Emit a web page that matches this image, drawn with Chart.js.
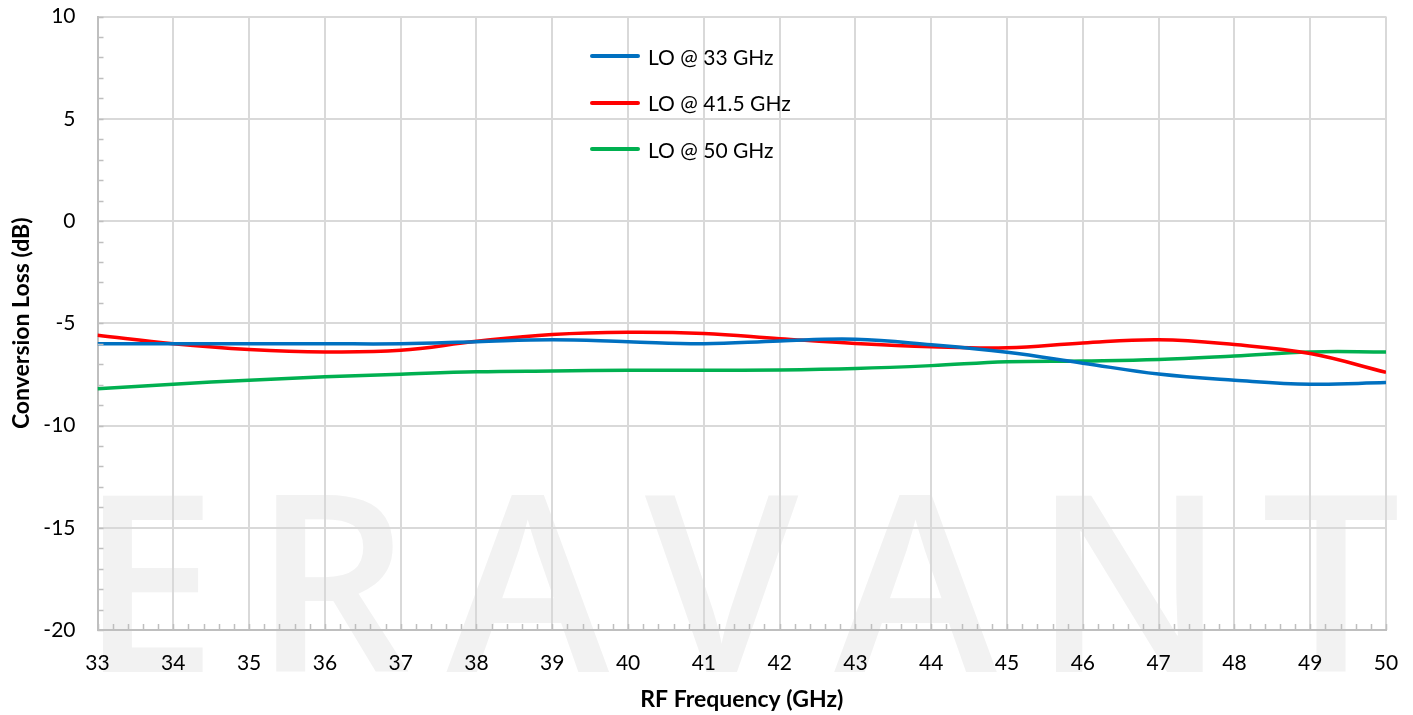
<!DOCTYPE html>
<html>
<head>
<meta charset="utf-8">
<script src="https://cdn.jsdelivr.net/npm/chart.js@4"></script>
<style>
  html, body { margin: 0; padding: 0; background: #fff; }
  #wrap { position: relative; width: 1413px; height: 715px; overflow: hidden; font-family: Lato, "Open Sans", sans-serif; }
  #watermark {
    position: absolute; left: 80px; top: 454px; font-family: "Open Sans", Lato, sans-serif; font-weight: 600;
    font-size: 246px; line-height: 1; color: #f2f2f2; letter-spacing: 36px; white-space: nowrap; z-index: 0;
  }
  /* canvas is taller and moved up, so the plot top sits where the reference has it */
  #chart { position: absolute; left: 0; top: -18px; z-index: 1; }
  #legend { position: absolute; left: 590px; top: 33px; z-index: 2; }
  .item { display: flex; align-items: center; height: 46.5px; font-size: 21px; color: #000; }
  .swatch { width: 50px; height: 4px; border-radius: 2px; margin-right: 8px; }
</style>
</head>
<body>
<div id="wrap">
  <div id="watermark">ERAVANT</div>
  <canvas id="chart" width="1413" height="733"></canvas>
  <div id="legend"></div>
</div>
<script>
// RF frequency (GHz)
const freqs = [33, 34, 35, 36, 37, 38, 39, 40, 41, 42, 43, 44, 45, 46, 47, 48, 49, 50];
// conversion loss (dB)
const lo33 = [-6.0, -6.0, -6.0, -6.0, -6.0, -5.9, -5.8, -5.9, -6.0, -5.86, -5.78, -6.05, -6.42, -6.95, -7.48, -7.78, -7.98, -7.9];
const lo415 = [-5.58, -6.0, -6.28, -6.4, -6.32, -5.88, -5.55, -5.44, -5.5, -5.75, -5.99, -6.15, -6.2, -5.96, -5.8, -6.04, -6.48, -7.4];
const lo50 = [-8.2, -7.98, -7.78, -7.62, -7.49, -7.37, -7.33, -7.3, -7.3, -7.28, -7.21, -7.07, -6.88, -6.84, -6.77, -6.6, -6.4, -6.4];
const seriesNames = ['LO @ 33 GHz', 'LO @ 41.5 GHz', 'LO @ 50 GHz'];
const seriesColors = ['#0070c0', '#ff0000', '#00b050'];

const toPts = arr => arr.map((v, i) => ({ x: freqs[i], y: v }));

// minor tick marks drawn inside the plot, Excel style
const minorTicks = {
  id: 'minorTicks',
  afterDraw(chart) {
    const { ctx, chartArea, scales } = chart;
    ctx.save();
    ctx.strokeStyle = '#bfbfbf';
    ctx.lineWidth = 1.5;
    ctx.beginPath();
    for (let v = 33; v <= 50.001; v += 0.2) {
      const px = Math.round(scales.x.getPixelForValue(v)) + 0.5;
      ctx.moveTo(px, chartArea.bottom);
      ctx.lineTo(px, chartArea.bottom - 6);
    }
    for (let v = -20; v <= 10; v += 1) {
      const py = Math.round(scales.y.getPixelForValue(v)) + 0.5;
      ctx.moveTo(chartArea.left, py);
      ctx.lineTo(chartArea.left + 6, py);
    }
    ctx.stroke();
    ctx.restore();
  }
};

const datasets = [lo33, lo415, lo50].map((arr, i) => ({
  label: seriesNames[i],
  data: toPts(arr),
  borderColor: seriesColors[i],
  backgroundColor: seriesColors[i],
  borderWidth: 3.5,
  pointRadius: 0,
  tension: 0.4,
  fill: false,
}));

new Chart(document.getElementById('chart').getContext('2d'), {
  type: 'line',
  data: { datasets },
  options: {
    responsive: false,
    animation: false,
    layout: { padding: { top: 0, right: 27, left: 0, bottom: 0 } },
    plugins: {
      legend: { display: false },
      tooltip: { enabled: false }
    },
    scales: {
      x: {
        type: 'linear',
        min: 33, max: 50,
        ticks: { stepSize: 1, color: '#000', font: { family: 'Lato', size: 21 }, padding: 21, maxRotation: 0 },
        grid: { color: '#d9d9d9', lineWidth: 2, drawTicks: false },
        border: { color: '#bfbfbf', width: 2 },
        title: { display: true, text: 'RF Frequency (GHz)', color: '#000', font: { family: 'Lato', size: 23, weight: 'bold' }, padding: { top: 6, bottom: 2 } },
        afterFit: s => { s.height = 85; s.paddingLeft = 0; s.paddingRight = 0; }
      },
      y: {
        min: -20, max: 10,
        ticks: { stepSize: 5, color: '#000', font: { family: 'Lato', size: 21 }, padding: 22 },
        grid: { color: '#d9d9d9', lineWidth: 2, drawTicks: false },
        border: { color: '#bfbfbf', width: 2 },
        title: { display: true, text: 'Conversion Loss (dB)', color: '#000', font: { family: 'Lato', size: 23, weight: 'bold' }, padding: { top: 8, bottom: 2 } },
        afterFit: s => { s.width = 97.5; }
      }
    }
  },
  plugins: [minorTicks]
});

// legend as html, built from the series lists
const legend = document.getElementById('legend');
seriesNames.forEach((name, i) => {
  const row = document.createElement('div');
  row.className = 'item';
  row.innerHTML = `<span class="swatch" style="background:${seriesColors[i]}"></span>${name}`;
  legend.appendChild(row);
});
</script>
</body>
</html>
